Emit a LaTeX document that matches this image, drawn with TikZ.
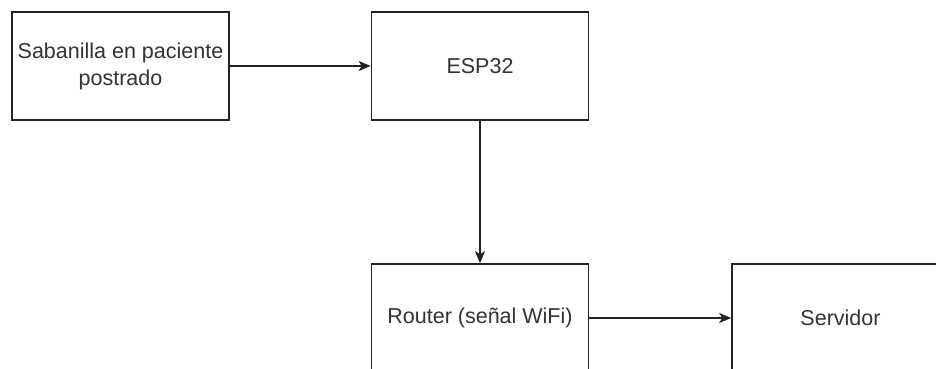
\documentclass[tikz,border=0pt]{standalone}
\usepackage{fontspec}
\setmainfont{Liberation Sans}
\usetikzlibrary{arrows.meta}
\definecolor{txt}{HTML}{333333}
\definecolor{ln}{HTML}{222222}
\begin{document}
\begin{tikzpicture}[x=1pt,y=1pt,
  blockbox/.style={draw=ln,line width=1.6pt,fill=white,minimum width=217pt,minimum height=108pt,inner sep=0pt,
    font=\fontsize{21.5}{27}\selectfont,text=txt,align=center},
  conn/.style={draw=ln,line width=1.6pt,-{Stealth[length=12pt,width=10pt,inset=3pt]}}]
\clip (0,0) rectangle (936,369);
\fill[white] (0,0) rectangle (936,369);
\node[blockbox] (sab) at (120.5,303) {Sabanilla en paciente\\postrado};
\node[blockbox] (esp) at (480,303) {ESP32};
\node[blockbox] (rout) at (480,51) {Router (señal WiFi)};
\node[blockbox] (serv) at (840.5,51) {Servidor};
\draw[conn] (sab) -- (esp);
\draw[conn] (esp) -- (rout);
\draw[conn] (rout) -- (serv);
\end{tikzpicture}
\end{document}
